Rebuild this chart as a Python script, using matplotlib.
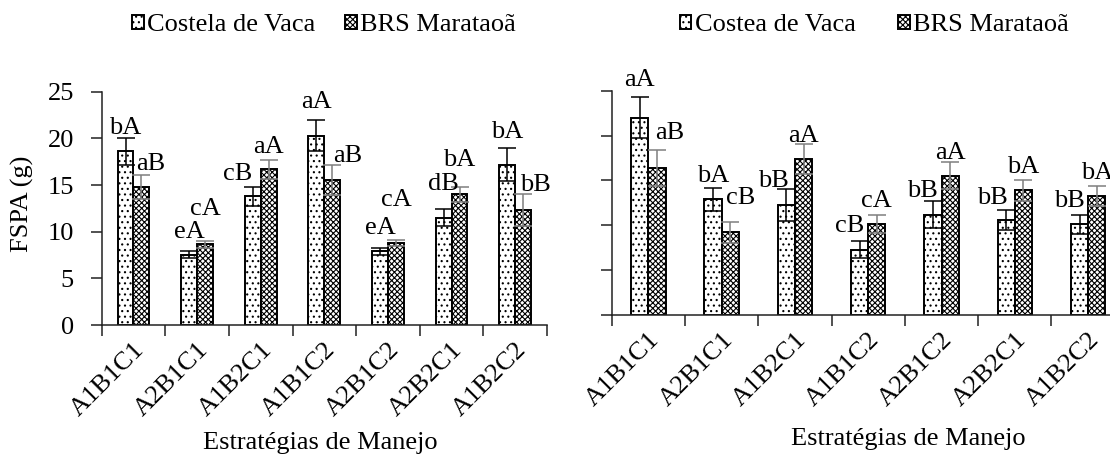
import matplotlib
matplotlib.use("Agg")
import matplotlib.pyplot as plt
from matplotlib.patches import Patch
import numpy as np

plt.rcParams['font.family'] = ['Liberation Serif', 'DejaVu Serif']
plt.rcParams['hatch.linewidth'] = 0.8

categories = ["A1B1C1", "A2B1C1", "A1B2C1", "A1B1C2", "A2B1C2", "A2B2C1", "A1B2C2"]

# left chart values (FSPA, g)
left_cv = [18.6, 7.55, 13.8, 20.3, 7.9, 11.5, 17.2]
left_cv_err = [1.4, 0.35, 1.0, 1.7, 0.35, 0.9, 1.8]
left_brs = [14.8, 8.65, 16.7, 15.5, 8.8, 14.0, 12.3]
left_brs_err = [1.3, 0.35, 1.0, 1.6, 0.3, 0.8, 1.7]
left_cv_letters = ["bA", "eA", "cB", "aA", "eA", "dB", "bA"]
left_brs_letters = ["aB", "cA", "aA", "aB", "cA", "bA", "bB"]

# right chart values
right_cv = [22.0, 12.9, 12.3, 7.3, 11.2, 10.6, 10.1]
right_cv_err = [2.3, 1.3, 1.8, 1.0, 1.5, 1.1, 1.1]
right_brs = [16.4, 9.2, 17.4, 10.1, 15.5, 13.9, 13.3]
right_brs_err = [2.0, 1.2, 1.7, 1.0, 1.5, 1.2, 1.1]
right_cv_letters = ["aA", "bA", "bB", "cB", "bB", "bB", "bB"]
right_brs_letters = ["aB", "cB", "aA", "cA", "aA", "bA", "bA"]

# label offsets in pixels (dx, dy above error bar top)
left_cv_off = [(0, 4), (0, 13), (-15, 7), (0, 12), (0, 14), (0, 19), (0, 10)]
left_brs_off = [(9, 5), (0, 26), (0, 7), (15, 3), (0, 34), (0, 21), (12, 3)]
right_cv_off = [(0, 11), (0, 6), (-13, 2), (-10, 9), (-11, 4), (-14, 6), (-10, 8)]
right_brs_off = [(13, 11), (10, 18), (0, 2), (0, 8), (0, 3), (0, 7), (0, 7)]

FS = 19
AXC = "#222222"
cv_style = dict(facecolor="white", edgecolor="black", hatch="...", linewidth=1.4)
brs_style = dict(facecolor="white", edgecolor="black", hatch="xxxxxx", linewidth=1.4)

fig = plt.figure(figsize=(11.1, 4.57), dpi=100)
ax1 = fig.add_axes([0.0916, 0.2888, 0.4012, 0.5105])
ax2 = fig.add_axes([0.5511, 0.3107, 0.4622, 0.4908])


def draw(ax, cv, cv_err, brs, brs_err, cv_let, brs_let, cv_off, brs_off, w, show_y):
    x = np.arange(len(categories))
    ax.bar(x - w / 2, cv, w, **cv_style)
    ax.bar(x + w / 2, brs, w, **brs_style)
    ax.errorbar(x - w / 2, cv, yerr=cv_err, fmt="none", ecolor="black",
                elinewidth=1.1, capsize=6.5, capthick=1.1)
    ax.errorbar(x + w / 2, brs, yerr=brs_err, fmt="none", ecolor="#7f7f7f",
                elinewidth=1.1, capsize=6.5, capthick=1.1)
    for i in range(len(categories)):
        ax.annotate(cv_let[i], (x[i] - w / 2, cv[i] + cv_err[i]),
                    xytext=cv_off[i], textcoords="offset pixels",
                    ha="center", va="baseline", fontsize=FS)
        ax.annotate(brs_let[i], (x[i] + w / 2, brs[i] + brs_err[i]),
                    xytext=brs_off[i], textcoords="offset pixels",
                    ha="center", va="baseline", fontsize=FS)

    ax.set_xlim(-0.5, len(categories) - 0.5)
    ax.set_ylim(0, 25)
    ax.set_yticks(range(0, 26, 5))
    ax.set_xticks(np.arange(-0.5, len(categories), 1.0))
    ax.set_xticklabels([])
    ax.set_xticks(x, minor=True)
    ax.set_xticklabels(categories, minor=True, rotation=45, ha="right",
                       va="top", rotation_mode="anchor", fontsize=FS)
    ax.tick_params(axis="x", which="minor", length=0, pad=10)
    ax.tick_params(axis="x", which="major", length=8, width=1.1, color=AXC, direction="out")
    ax.tick_params(axis="y", length=8, width=1.1, color=AXC, direction="out",
                   pad=12, labelsize=FS)
    if not show_y:
        ax.set_yticklabels([])
    for s in ["top", "right"]:
        ax.spines[s].set_visible(False)
    for s in ["left", "bottom"]:
        ax.spines[s].set_linewidth(1.1)
        ax.spines[s].set_color(AXC)


draw(ax1, left_cv, left_cv_err, left_brs, left_brs_err,
     left_cv_letters, left_brs_letters, left_cv_off, left_brs_off, 0.25, True)
draw(ax2, right_cv, right_cv_err, right_brs, right_brs_err,
     right_cv_letters, right_brs_letters, right_cv_off, right_brs_off, 0.235, False)

fig.text(22 / 1110, 1 - 204 / 457, "FSPA (g)", rotation=90, ha="center",
         va="center", fontsize=FS)
fig.text(320 / 1110, 1 - 443 / 457, "Estratégias de Manejo", ha="center",
         va="center", fontsize=FS)
fig.text(908 / 1110, 1 - 439 / 457, "Estratégias de Manejo", ha="center",
         va="center", fontsize=FS)

h1 = [Patch(**cv_style, label="Costela de Vaca"), Patch(**brs_style, label="BRS Marataoã")]
h2 = [Patch(**cv_style, label="Costea de Vaca"), Patch(**brs_style, label="BRS Marataoã")]
fig.legend(handles=h1, loc="center", bbox_to_anchor=(324 / 1110, 1 - 25 / 457),
           ncol=2, frameon=False, fontsize=FS, handlelength=0.45, handleheight=0.45,
           handletextpad=0.12, columnspacing=1.1, borderpad=0, borderaxespad=0)
fig.legend(handles=h2, loc="center", bbox_to_anchor=(874 / 1110, 1 - 25 / 457),
           ncol=2, frameon=False, fontsize=FS, handlelength=0.45, handleheight=0.45,
           handletextpad=0.12, columnspacing=1.6, borderpad=0, borderaxespad=0)

fig.savefig("out.png", dpi=100)
